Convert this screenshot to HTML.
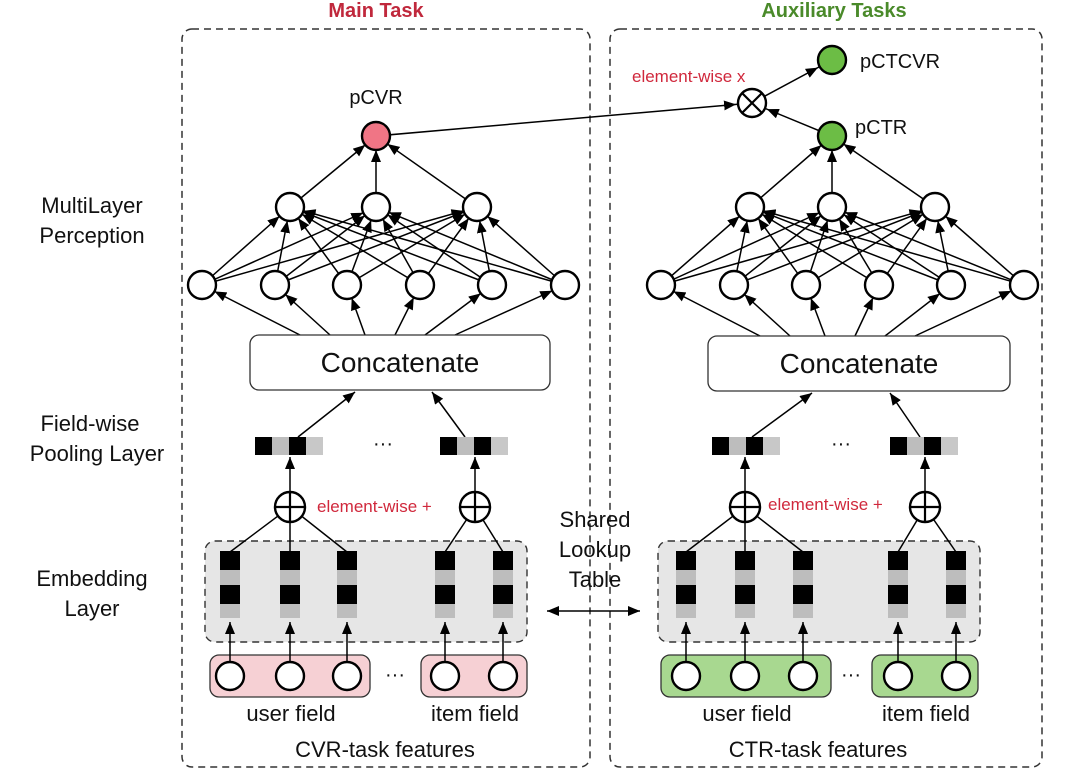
<!DOCTYPE html>
<html><head><meta charset="utf-8"><style>
html,body{margin:0;padding:0;background:#fff;}
svg{display:block;font-family:"Liberation Sans",Arial,sans-serif;}
</style></head><body>
<svg width="1080" height="779" viewBox="0 0 1080 779" xmlns="http://www.w3.org/2000/svg">
<defs>
<marker id="a" viewBox="0 0 12 10" refX="26" refY="5" markerWidth="12" markerHeight="10" markerUnits="userSpaceOnUse" orient="auto"><path d="M0,0 L12,5 L0,10 z" fill="#000"/></marker>
<marker id="b" viewBox="0 0 12 10" refX="12" refY="5" markerWidth="12" markerHeight="10" markerUnits="userSpaceOnUse" orient="auto-start-reverse"><path d="M0,0 L12,5 L0,10 z" fill="#000"/></marker>
<marker id="c" viewBox="0 0 12 10" refX="28" refY="5" markerWidth="12" markerHeight="10" markerUnits="userSpaceOnUse" orient="auto"><path d="M0,0 L12,5 L0,10 z" fill="#000"/></marker>
</defs>

<text x="376" y="17" text-anchor="middle" font-size="20" font-weight="bold" fill="#c0283c">Main Task</text>
<text x="834" y="17" text-anchor="middle" font-size="20" font-weight="bold" fill="#4a8a2a">Auxiliary Tasks</text>

<rect x="182" y="29" width="408" height="738" rx="10" fill="none" stroke="#333" stroke-width="1.5" stroke-dasharray="7,5"/>
<rect x="610" y="29" width="432" height="738" rx="10" fill="none" stroke="#333" stroke-width="1.5" stroke-dasharray="7,5"/>

<g font-size="22" fill="#111" text-anchor="middle">
<text x="92" y="213">MultiLayer</text><text x="92" y="243">Perception</text>
<text x="90" y="431">Field-wise</text><text x="97" y="461">Pooling Layer</text>
<text x="92" y="586">Embedding</text><text x="92" y="616">Layer</text>
<text x="595" y="527">Shared</text><text x="595" y="557">Lookup</text><text x="595" y="587">Table</text>
</g>
<line x1="547" y1="611" x2="640" y2="611" stroke="#000" stroke-width="1.5" marker-end="url(#b)" marker-start="url(#b)"/>

<g stroke="#000" stroke-width="1.5" fill="none">
<line x1="202" y1="285" x2="290" y2="207" marker-end="url(#a)"/>
<line x1="202" y1="285" x2="376" y2="207" marker-end="url(#a)"/>
<line x1="202" y1="285" x2="477" y2="207" marker-end="url(#a)"/>
<line x1="275" y1="285" x2="290" y2="207" marker-end="url(#a)"/>
<line x1="275" y1="285" x2="376" y2="207" marker-end="url(#a)"/>
<line x1="275" y1="285" x2="477" y2="207" marker-end="url(#a)"/>
<line x1="347" y1="285" x2="290" y2="207" marker-end="url(#a)"/>
<line x1="347" y1="285" x2="376" y2="207" marker-end="url(#a)"/>
<line x1="347" y1="285" x2="477" y2="207" marker-end="url(#a)"/>
<line x1="420" y1="285" x2="290" y2="207" marker-end="url(#a)"/>
<line x1="420" y1="285" x2="376" y2="207" marker-end="url(#a)"/>
<line x1="420" y1="285" x2="477" y2="207" marker-end="url(#a)"/>
<line x1="492" y1="285" x2="290" y2="207" marker-end="url(#a)"/>
<line x1="492" y1="285" x2="376" y2="207" marker-end="url(#a)"/>
<line x1="492" y1="285" x2="477" y2="207" marker-end="url(#a)"/>
<line x1="565" y1="285" x2="290" y2="207" marker-end="url(#a)"/>
<line x1="565" y1="285" x2="376" y2="207" marker-end="url(#a)"/>
<line x1="565" y1="285" x2="477" y2="207" marker-end="url(#a)"/>
<line x1="290" y1="207" x2="376" y2="136" marker-end="url(#a)"/>
<line x1="376" y1="207" x2="376" y2="136" marker-end="url(#a)"/>
<line x1="477" y1="207" x2="376" y2="136" marker-end="url(#a)"/>
<line x1="300" y1="335" x2="202" y2="285" marker-end="url(#a)"/>
<line x1="330" y1="335" x2="275" y2="285" marker-end="url(#a)"/>
<line x1="365" y1="335" x2="347" y2="285" marker-end="url(#a)"/>
<line x1="395" y1="335" x2="420" y2="285" marker-end="url(#a)"/>
<line x1="425" y1="335" x2="492" y2="285" marker-end="url(#a)"/>
<line x1="455" y1="335" x2="565" y2="285" marker-end="url(#a)"/>

<line x1="661" y1="285" x2="750" y2="207" marker-end="url(#a)"/>
<line x1="661" y1="285" x2="832" y2="207" marker-end="url(#a)"/>
<line x1="661" y1="285" x2="935" y2="207" marker-end="url(#a)"/>
<line x1="734" y1="285" x2="750" y2="207" marker-end="url(#a)"/>
<line x1="734" y1="285" x2="832" y2="207" marker-end="url(#a)"/>
<line x1="734" y1="285" x2="935" y2="207" marker-end="url(#a)"/>
<line x1="806" y1="285" x2="750" y2="207" marker-end="url(#a)"/>
<line x1="806" y1="285" x2="832" y2="207" marker-end="url(#a)"/>
<line x1="806" y1="285" x2="935" y2="207" marker-end="url(#a)"/>
<line x1="879" y1="285" x2="750" y2="207" marker-end="url(#a)"/>
<line x1="879" y1="285" x2="832" y2="207" marker-end="url(#a)"/>
<line x1="879" y1="285" x2="935" y2="207" marker-end="url(#a)"/>
<line x1="951" y1="285" x2="750" y2="207" marker-end="url(#a)"/>
<line x1="951" y1="285" x2="832" y2="207" marker-end="url(#a)"/>
<line x1="951" y1="285" x2="935" y2="207" marker-end="url(#a)"/>
<line x1="1024" y1="285" x2="750" y2="207" marker-end="url(#a)"/>
<line x1="1024" y1="285" x2="832" y2="207" marker-end="url(#a)"/>
<line x1="1024" y1="285" x2="935" y2="207" marker-end="url(#a)"/>
<line x1="750" y1="207" x2="832" y2="136" marker-end="url(#a)"/>
<line x1="832" y1="207" x2="832" y2="136" marker-end="url(#a)"/>
<line x1="935" y1="207" x2="832" y2="136" marker-end="url(#a)"/>
<line x1="760" y1="336" x2="661" y2="285" marker-end="url(#a)"/>
<line x1="790" y1="336" x2="734" y2="285" marker-end="url(#a)"/>
<line x1="825" y1="336" x2="806" y2="285" marker-end="url(#a)"/>
<line x1="855" y1="336" x2="879" y2="285" marker-end="url(#a)"/>
<line x1="885" y1="336" x2="951" y2="285" marker-end="url(#a)"/>
<line x1="915" y1="336" x2="1024" y2="285" marker-end="url(#a)"/>

<line x1="376" y1="136" x2="752" y2="103" marker-end="url(#c)"/>
<line x1="832" y1="136" x2="752" y2="103" marker-end="url(#c)"/>
<line x1="752" y1="103" x2="832" y2="60" marker-end="url(#c)"/>

<line x1="298" y1="437" x2="355" y2="392" marker-end="url(#b)"/>
<line x1="465" y1="437" x2="432" y2="392" marker-end="url(#b)"/>
<line x1="290" y1="491" x2="290" y2="457" marker-end="url(#b)"/>
<line x1="475" y1="491" x2="475" y2="457" marker-end="url(#b)"/>
<line x1="752" y1="437" x2="812" y2="393" marker-end="url(#b)"/>
<line x1="920" y1="437" x2="890" y2="393" marker-end="url(#b)"/>
<line x1="745" y1="491" x2="745" y2="457" marker-end="url(#b)"/>
<line x1="925" y1="491" x2="925" y2="457" marker-end="url(#b)"/>
</g>

<rect x="205" y="541" width="322" height="101" rx="10" fill="#e6e6e6" stroke="#333" stroke-width="1.4" stroke-dasharray="7,5"/>
<rect x="658" y="541" width="322" height="101" rx="10" fill="#e6e6e6" stroke="#333" stroke-width="1.4" stroke-dasharray="7,5"/>

<g stroke="#000" stroke-width="1.5">
<line x1="290" y1="507" x2="230" y2="552"/><line x1="290" y1="507" x2="290" y2="552"/><line x1="290" y1="507" x2="347" y2="552"/>
<line x1="475" y1="507" x2="445" y2="552"/><line x1="475" y1="507" x2="503" y2="552"/>
<line x1="745" y1="507" x2="686" y2="552"/><line x1="745" y1="507" x2="745" y2="552"/><line x1="745" y1="507" x2="803" y2="552"/>
<line x1="925" y1="507" x2="898" y2="552"/><line x1="925" y1="507" x2="956" y2="552"/>
</g>

<g fill="#000"><rect x="220" y="551" width="20" height="19"/><rect x="220" y="585" width="20" height="19"/>
<rect x="280" y="551" width="20" height="19"/><rect x="280" y="585" width="20" height="19"/>
<rect x="337" y="551" width="20" height="19"/><rect x="337" y="585" width="20" height="19"/>
<rect x="435" y="551" width="20" height="19"/><rect x="435" y="585" width="20" height="19"/>
<rect x="493" y="551" width="20" height="19"/><rect x="493" y="585" width="20" height="19"/>
<rect x="676" y="551" width="20" height="19"/><rect x="676" y="585" width="20" height="19"/>
<rect x="735" y="551" width="20" height="19"/><rect x="735" y="585" width="20" height="19"/>
<rect x="793" y="551" width="20" height="19"/><rect x="793" y="585" width="20" height="19"/>
<rect x="888" y="551" width="20" height="19"/><rect x="888" y="585" width="20" height="19"/>
<rect x="946" y="551" width="20" height="19"/><rect x="946" y="585" width="20" height="19"/></g>
<g fill="#bdbdbd"><rect x="220" y="570" width="20" height="15"/><rect x="220" y="604" width="20" height="14"/>
<rect x="280" y="570" width="20" height="15"/><rect x="280" y="604" width="20" height="14"/>
<rect x="337" y="570" width="20" height="15"/><rect x="337" y="604" width="20" height="14"/>
<rect x="435" y="570" width="20" height="15"/><rect x="435" y="604" width="20" height="14"/>
<rect x="493" y="570" width="20" height="15"/><rect x="493" y="604" width="20" height="14"/>
<rect x="676" y="570" width="20" height="15"/><rect x="676" y="604" width="20" height="14"/>
<rect x="735" y="570" width="20" height="15"/><rect x="735" y="604" width="20" height="14"/>
<rect x="793" y="570" width="20" height="15"/><rect x="793" y="604" width="20" height="14"/>
<rect x="888" y="570" width="20" height="15"/><rect x="888" y="604" width="20" height="14"/>
<rect x="946" y="570" width="20" height="15"/><rect x="946" y="604" width="20" height="14"/></g>

<rect x="210" y="655" width="160" height="42" rx="9" fill="#f6d0d4" stroke="#333" stroke-width="1.3"/>
<rect x="421" y="655" width="106" height="42" rx="9" fill="#f6d0d4" stroke="#333" stroke-width="1.3"/>
<rect x="661" y="655" width="170" height="42" rx="9" fill="#a8d890" stroke="#333" stroke-width="1.3"/>
<rect x="872" y="655" width="106" height="42" rx="9" fill="#a8d890" stroke="#333" stroke-width="1.3"/>

<g stroke="#000" stroke-width="1.5">
<line x1="230" y1="662" x2="230" y2="622" marker-end="url(#b)"/>
<line x1="290" y1="662" x2="290" y2="622" marker-end="url(#b)"/>
<line x1="347" y1="662" x2="347" y2="622" marker-end="url(#b)"/>
<line x1="445" y1="662" x2="445" y2="622" marker-end="url(#b)"/>
<line x1="503" y1="662" x2="503" y2="622" marker-end="url(#b)"/>
<line x1="686" y1="662" x2="686" y2="622" marker-end="url(#b)"/>
<line x1="745" y1="662" x2="745" y2="622" marker-end="url(#b)"/>
<line x1="803" y1="662" x2="803" y2="622" marker-end="url(#b)"/>
<line x1="898" y1="662" x2="898" y2="622" marker-end="url(#b)"/>
<line x1="956" y1="662" x2="956" y2="622" marker-end="url(#b)"/>
</g>

<g fill="#fff" stroke="#000" stroke-width="2.4">
<circle cx="202" cy="285" r="14"/><circle cx="275" cy="285" r="14"/><circle cx="347" cy="285" r="14"/><circle cx="420" cy="285" r="14"/><circle cx="492" cy="285" r="14"/><circle cx="565" cy="285" r="14"/>
<circle cx="290" cy="207" r="14"/><circle cx="376" cy="207" r="14"/><circle cx="477" cy="207" r="14"/>
<circle cx="661" cy="285" r="14"/><circle cx="734" cy="285" r="14"/><circle cx="806" cy="285" r="14"/><circle cx="879" cy="285" r="14"/><circle cx="951" cy="285" r="14"/><circle cx="1024" cy="285" r="14"/>
<circle cx="750" cy="207" r="14"/><circle cx="832" cy="207" r="14"/><circle cx="935" cy="207" r="14"/>
<circle cx="230" cy="676" r="14"/><circle cx="290" cy="676" r="14"/><circle cx="347" cy="676" r="14"/><circle cx="445" cy="676" r="14"/><circle cx="503" cy="676" r="14"/>
<circle cx="686" cy="676" r="14"/><circle cx="745" cy="676" r="14"/><circle cx="803" cy="676" r="14"/><circle cx="898" cy="676" r="14"/><circle cx="956" cy="676" r="14"/>
<circle cx="376" cy="136" r="14" fill="#f07585"/>
<circle cx="832" cy="136" r="14" fill="#6cbd45"/>
<circle cx="832" cy="60" r="14" fill="#6cbd45"/>
<circle cx="752" cy="103" r="14"/>
<circle cx="290" cy="507" r="15"/><circle cx="475" cy="507" r="15"/>
<circle cx="745" cy="507" r="15"/><circle cx="925" cy="507" r="15"/>
</g>
<g stroke="#000" stroke-width="2.2">
<line x1="742" y1="93" x2="762" y2="113"/><line x1="762" y1="93" x2="742" y2="113"/>
<line x1="275" y1="507" x2="305" y2="507"/><line x1="290" y1="492" x2="290" y2="522"/>
<line x1="460" y1="507" x2="490" y2="507"/><line x1="475" y1="492" x2="475" y2="522"/>
<line x1="730" y1="507" x2="760" y2="507"/><line x1="745" y1="492" x2="745" y2="522"/>
<line x1="910" y1="507" x2="940" y2="507"/><line x1="925" y1="492" x2="925" y2="522"/>
</g>

<rect x="255" y="437" width="17" height="18" fill="#000"/><rect x="272" y="437" width="17" height="18" fill="#bdbdbd"/><rect x="289" y="437" width="17" height="18" fill="#000"/><rect x="306" y="437" width="17" height="18" fill="#c8c8c8"/>
<rect x="440" y="437" width="17" height="18" fill="#000"/><rect x="457" y="437" width="17" height="18" fill="#bdbdbd"/><rect x="474" y="437" width="17" height="18" fill="#000"/><rect x="491" y="437" width="17" height="18" fill="#c8c8c8"/>
<rect x="712" y="437" width="17" height="18" fill="#000"/><rect x="729" y="437" width="17" height="18" fill="#bdbdbd"/><rect x="746" y="437" width="17" height="18" fill="#000"/><rect x="763" y="437" width="17" height="18" fill="#c8c8c8"/>
<rect x="890" y="437" width="17" height="18" fill="#000"/><rect x="907" y="437" width="17" height="18" fill="#bdbdbd"/><rect x="924" y="437" width="17" height="18" fill="#000"/><rect x="941" y="437" width="17" height="18" fill="#c8c8c8"/>

<rect x="250" y="335" width="300" height="55" rx="9" fill="#fff" stroke="#333" stroke-width="1.3"/>
<rect x="708" y="336" width="302" height="55" rx="9" fill="#fff" stroke="#333" stroke-width="1.3"/>
<g font-size="28" fill="#111" text-anchor="middle">
<text x="400" y="372">Concatenate</text>
<text x="859" y="373">Concatenate</text>
</g>

<g font-size="20" fill="#111">
<text x="376" y="104" text-anchor="middle">pCVR</text>
<text x="860" y="68">pCTCVR</text>
<text x="855" y="134">pCTR</text>
<text x="291" y="721" text-anchor="middle" font-size="22">user field</text>
<text x="475" y="721" text-anchor="middle" font-size="22">item field</text>
<text x="747" y="721" text-anchor="middle" font-size="22">user field</text>
<text x="926" y="721" text-anchor="middle" font-size="22">item field</text>
<text x="385" y="757" text-anchor="middle" font-size="22">CVR-task features</text>
<text x="818" y="757" text-anchor="middle" font-size="22">CTR-task features</text>
<text x="383" y="450" text-anchor="middle">···</text>
<text x="841" y="450" text-anchor="middle">···</text>
<text x="395" y="681" text-anchor="middle">···</text>
<text x="851" y="681" text-anchor="middle">···</text>
</g>
<g font-size="17" fill="#d0283c">
<text x="317" y="512">element-wise +</text>
<text x="768" y="510">element-wise +</text>
<text x="632" y="82">element-wise x</text>
</g>
</svg>
</body></html>
